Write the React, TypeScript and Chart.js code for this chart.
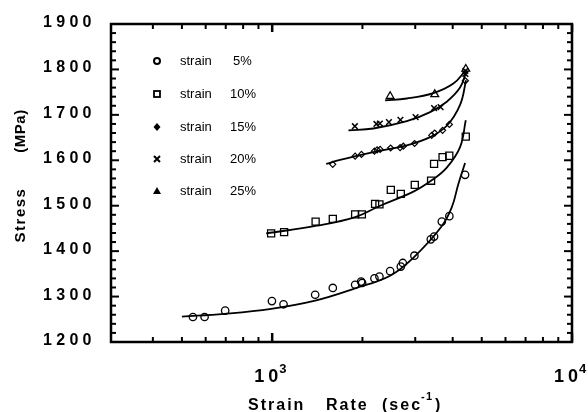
import React, { useEffect, useRef } from 'react';
import { Chart, registerables } from 'chart.js';

Chart.register(...registerables);

// ---- axis ranges & ticks ----
const X_MIN = 290;
const X_MAX = 10000;
const Y_MIN = 1200;
const Y_MAX = 1900;
const Y_MINOR_STEP = 20;
const yTickLabels = [1200, 1300, 1400, 1500, 1600, 1700, 1800, 1900];
const xMajorTicks = [1000, 10000];
const xMajorExponents = ['3', '4'];
const xMinorTicks = [400, 500, 600, 700, 800, 900, 2000, 3000, 4000, 5000, 6000, 7000, 8000, 9000];

// ---- legend ----
const legendWords = ['strain', 'strain', 'strain', 'strain', 'strain'];
const legendPercents = ['5%', '10%', '15%', '20%', '25%'];

// ---- strain 5% ----
const rate5 = [544, 595, 697, 998, 1091, 1391, 1593, 1891, 1980, 1995, 2193, 2279, 2474, 2685, 2727, 2981, 3381, 3467, 3679, 3899, 4399];
const stress5 = [1255, 1255, 1269, 1290, 1283, 1304, 1319, 1326, 1333, 1330, 1340, 1344, 1356, 1366, 1374, 1390, 1426, 1432, 1465, 1477, 1568];
const fitRate5 = [500, 692, 992, 1391, 1891, 2474, 2972, 3660, 3974, 4178, 4399];
const fitStress5 = [1256, 1262, 1273, 1291, 1318, 1346, 1387, 1453, 1497, 1548, 1594];

// ---- strain 10% ----
const rate10 = [992, 1096, 1396, 1593, 1891, 1991, 2204, 2279, 2487, 2685, 2990, 3388, 3467, 3701, 3897, 4423];
const stress10 = [1439, 1442, 1465, 1471, 1481, 1481, 1504, 1503, 1535, 1526, 1546, 1555, 1592, 1607, 1610, 1652];
const fitRate10 = [955, 1409, 1891, 2291, 2958, 3404, 3822, 4233, 4423];
const fitStress10 = [1439, 1456, 1475, 1500, 1531, 1556, 1584, 1629, 1688];

// ---- strain 15% ----
const rate15 = [1592, 1891, 1985, 2193, 2239, 2291, 2483, 2671, 2738, 2985, 3404, 3485, 3701, 3899, 4410];
const stress15 = [1591, 1609, 1613, 1620, 1623, 1624, 1627, 1628, 1631, 1637, 1655, 1660, 1666, 1679, 1775];
const fitRate15 = [1514, 1685, 2176, 2812, 3363, 3822, 4233, 4433];
const fitStress15 = [1592, 1601, 1618, 1633, 1651, 1676, 1722, 1776];

// ---- strain 20% ----
const rate20 = [1887, 2227, 2286, 2451, 2677, 3008, 3467, 3645, 4410, 4410];
const stress20 = [1675, 1680, 1681, 1684, 1689, 1695, 1715, 1717, 1797, 1790];
const fitRate20 = [1796, 2176, 2812, 3363, 3822, 4233, 4433];
const fitStress20 = [1666, 1670, 1686, 1706, 1729, 1760, 1794];

// ---- strain 25% ----
const rate25 = [2474, 3485, 4423];
const stress25 = [1741, 1745, 1801];
const fitRate25 = [2381, 2812, 3449, 4021, 4433];
const fitStress25 = [1732, 1736, 1748, 1769, 1799];

const FONT = '"Liberation Sans", Arial, Helvetica, sans-serif';

const pts = (xs: number[], ys: number[]) => xs.map((x, i) => ({ x, y: ys[i] }));

function pointSet(label: string, xs: number[], ys: number[], style: string, radius: number, lw: number, fill = 'rgba(0,0,0,0)') {
  return {
    label,
    data: pts(xs, ys),
    showLine: false,
    pointStyle: style,
    pointRadius: radius,
    pointBorderWidth: lw,
    pointBorderColor: '#000',
    pointBackgroundColor: fill,
    borderColor: '#000',
    backgroundColor: fill,
    order: 1,
  };
}

function fitSet(label: string, xs: number[], ys: number[]) {
  return {
    label,
    data: pts(xs, ys),
    showLine: true,
    borderColor: '#000',
    borderWidth: 1.8,
    pointRadius: 0,
    fill: false,
    tension: 0.4,
    order: 2,
  };
}

function drawText(ctx: CanvasRenderingContext2D, text: string, x: number, y: number, font: string, spacing: number, align: CanvasTextAlign = 'left') {
  ctx.font = font;
  (ctx as any).letterSpacing = spacing + 'px';
  ctx.textAlign = align;
  ctx.textBaseline = 'alphabetic';
  ctx.fillText(text, x, y);
  (ctx as any).letterSpacing = '0px';
}

function legendMarker(ctx: CanvasRenderingContext2D, idx: number, x: number, y: number) {
  ctx.save();
  ctx.strokeStyle = '#000';
  ctx.fillStyle = '#000';
  ctx.lineWidth = 2;
  ctx.beginPath();
  if (idx === 0) {
    ctx.arc(x, y, 3, 0, Math.PI * 2);
    ctx.stroke();
  } else if (idx === 1) {
    ctx.lineWidth = 1.8;
    ctx.strokeRect(x - 3, y - 3, 6, 6);
  } else if (idx === 2) {
    ctx.moveTo(x, y - 4);
    ctx.lineTo(x + 3.5, y);
    ctx.lineTo(x, y + 4);
    ctx.lineTo(x - 3.5, y);
    ctx.closePath();
    ctx.fill();
  } else if (idx === 3) {
    ctx.moveTo(x - 3, y - 3);
    ctx.lineTo(x + 3, y + 3);
    ctx.moveTo(x + 3, y - 3);
    ctx.lineTo(x - 3, y + 3);
    ctx.stroke();
  } else {
    ctx.moveTo(x, y - 4);
    ctx.lineTo(x + 4, y + 3);
    ctx.lineTo(x - 4, y + 3);
    ctx.closePath();
    ctx.fill();
  }
  ctx.restore();
}

const framePlugin = {
  id: 'frameAndText',
  afterDraw(chart: any) {
    const ctx: CanvasRenderingContext2D = chart.ctx;
    const { left, right, top, bottom } = chart.chartArea;
    const xs = chart.scales.x;
    const ys = chart.scales.y;
    ctx.save();
    ctx.strokeStyle = '#000';
    ctx.fillStyle = '#000';

    const line = (x1: number, y1: number, x2: number, y2: number) => {
      ctx.beginPath();
      ctx.moveTo(x1, y1);
      ctx.lineTo(x2, y2);
      ctx.stroke();
    };

    // y ticks (inward, both sides)
    ctx.lineWidth = 2;
    for (let v = Y_MIN; v <= Y_MAX; v += Y_MINOR_STEP) {
      const y = ys.getPixelForValue(v);
      const len = v % 100 === 0 ? 8 : 5;
      line(left, y, left + len, y);
      line(right, y, right - len, y);
    }
    // x ticks (inward, top & bottom)
    xMinorTicks.forEach((v) => {
      const x = xs.getPixelForValue(v);
      line(x, bottom, x, bottom - 5);
      line(x, top, x, top + 5);
    });
    ctx.lineWidth = 2.5;
    xMajorTicks.forEach((v) => {
      const x = xs.getPixelForValue(v);
      line(x, bottom, x, bottom - 9);
      line(x, top, x, top + 8);
    });

    // frame
    ctx.lineWidth = 2.5;
    ctx.strokeRect(left, top, right - left, bottom - top);

    // y tick labels
    yTickLabels.forEach((v) => {
      const y = ys.getPixelForValue(v);
      drawText(ctx, String(v), 43, y + 3, 'bold 16px ' + FONT, 4.3);
    });

    // x tick labels 10^n
    xMajorTicks.forEach((v, i) => {
      const x = xs.getPixelForValue(v);
      drawText(ctx, '10', x - 18, 382, 'bold 18px ' + FONT, 4);
      drawText(ctx, xMajorExponents[i], x + 7, 373, 'bold 13px ' + FONT, 0);
    });

    // x axis title
    drawText(ctx, 'Strain', 248, 410, 'bold 16px ' + FONT, 2);
    drawText(ctx, 'Rate', 326, 410, 'bold 16px ' + FONT, 2);
    drawText(ctx, '(sec', 382, 410, 'bold 16px ' + FONT, 2);
    drawText(ctx, '-', 421, 400, 'bold 11px ' + FONT, 0);
    drawText(ctx, '1', 426, 400, 'bold 11px ' + FONT, 0);
    drawText(ctx, ')', 435, 410, 'bold 16px ' + FONT, 0);

    // y axis title (rotated)
    ctx.save();
    ctx.translate(25, 0);
    ctx.rotate(-Math.PI / 2);
    drawText(ctx, 'Stress', -215, 0, 'bold 15px ' + FONT, 1.5, 'center');
    drawText(ctx, '(MPa)', -131, 0, 'bold 15px ' + FONT, 0.5, 'center');
    ctx.restore();

    // legend
    const rowY = [61, 94, 127, 159, 191];
    legendPercents.forEach((p, i) => {
      legendMarker(ctx, i, 157, rowY[i]);
      drawText(ctx, legendWords[i], 180, rowY[i] + 4, '13px ' + FONT, 0);
      drawText(ctx, p, i === 0 ? 233 : 230, rowY[i] + 4, '13px ' + FONT, 0);
    });

    ctx.restore();
  },
};

export default function App() {
  const ref = useRef<HTMLCanvasElement>(null);
  useEffect(() => {
    document.body.style.margin = '0';
    const canvas = ref.current!;
    const chart = new Chart(canvas, {
      type: 'scatter',
      data: {
        datasets: [
          pointSet('strain 5%', rate5, stress5, 'circle', 3.7, 1.3),
          pointSet('strain 10%', rate10, stress10, 'rect', 5, 1.3),
          pointSet('strain 15%', rate15, stress15, 'rectRot', 3, 1.2),
          pointSet('strain 20%', rate20, stress20, 'crossRot', 4, 1.5),
          pointSet('strain 25%', rate25, stress25, 'triangle', 4.5, 1.3),
          fitSet('fit 5%', fitRate5, fitStress5),
          fitSet('fit 10%', fitRate10, fitStress10),
          fitSet('fit 15%', fitRate15, fitStress15),
          fitSet('fit 20%', fitRate20, fitStress20),
          fitSet('fit 25%', fitRate25, fitStress25),
        ] as any,
      },
      options: {
        responsive: false,
        animation: false,
        devicePixelRatio: 1,
        layout: { padding: { left: 111, top: 24, right: 16, bottom: 70 } },
        scales: {
          x: { type: 'logarithmic', min: X_MIN, max: X_MAX, display: false },
          y: { type: 'linear', min: Y_MIN, max: Y_MAX, display: false },
        },
        plugins: {
          legend: { display: false },
          tooltip: { enabled: false },
        },
      } as any,
      plugins: [framePlugin],
    });
    return () => chart.destroy();
  }, []);
  return (
    <div style={{ position: 'absolute', left: 0, top: 0, width: 588, height: 412, background: '#fff' }}>
      <canvas ref={ref} width={588} height={412} style={{ display: 'block' }} />
    </div>
  );
}
